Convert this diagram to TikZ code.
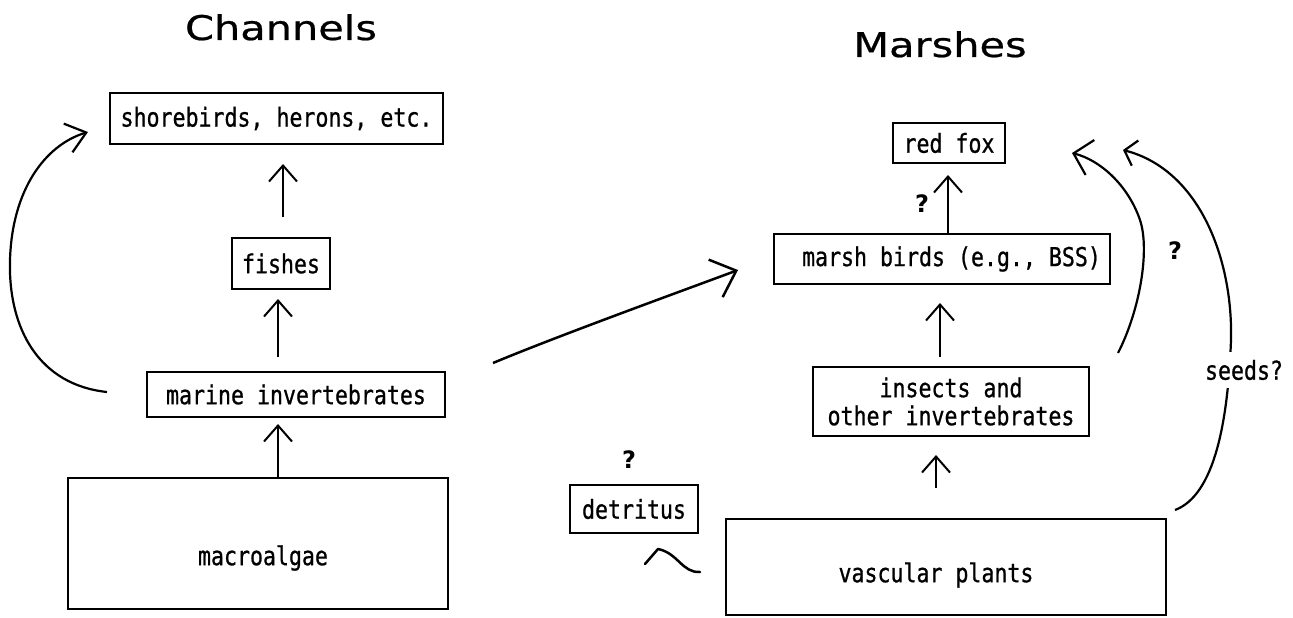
\documentclass[tikz,border=0pt]{standalone}
\usepackage{fontspec}
\usetikzlibrary{arrows.meta}
\newfontfamily\boxfont[FakeStretch=0.83,FakeBold=0.8]{DejaVu Sans Mono}
\newfontfamily\titlefont[FakeStretch=1.22,FakeBold=0.6]{DejaVu Sans}
\newfontfamily\qfont{DejaVu Sans}
\begin{document}
\begin{tikzpicture}[x=1pt,y=-1pt,
  box/.style={draw, line width=2pt, inner sep=0pt, font={\boxfont\fontsize{26}{28}\selectfont}},
  lbl/.style={inner sep=0pt, font={\boxfont\fontsize{26}{28}\selectfont}},
  ttl/.style={inner sep=0pt, anchor=base, font={\titlefont\fontsize{34}{40}\selectfont}},
  qm/.style={inner sep=0pt, font={\qfont\bfseries\fontsize{24}{28}\selectfont}},
  arr/.style={line width=2pt, -{Straight Barb[length=16pt,width=28pt]}},
  bigarr/.style={line width=2.5pt, -{Straight Barb[length=22pt,width=40pt]}},
  lcarr/.style={line width=2.2pt, -{Straight Barb[length=19pt,width=30pt]}},
  rcarrA/.style={line width=2.2pt, -{Straight Barb[length=17pt,width=36pt]}},
  rcarrB/.style={line width=2.2pt, -{Straight Barb[length=11pt,width=26pt]}}]
\useasboundingbox (0,0) rectangle (1293,618);

% titles
\node[ttl] (chan) at (281,40) {Channels};
\node[ttl] (mars) at (940,57) {Marshes};

% channel boxes
\node[box, minimum width=333pt, minimum height=51pt] (shore) at (276.5,118.5) {shorebirds, herons, etc.};
\node[box, minimum width=98pt, minimum height=51pt] (fishes) at (281,263.5) {fishes};
\node[box, minimum width=298pt, minimum height=45pt] (marine) at (296,394.5) {marine invertebrates};
\node[box, minimum width=380pt, minimum height=131pt] (macro) at (258,543.5) {};
\node[lbl] (macrot) at (263,558) {macroalgae};

% marsh boxes
\node[box, minimum width=112pt, minimum height=40pt] (fox) at (949,143) {red fox};
\node[box, minimum width=336pt, minimum height=50pt] (marsh) at (942,259) {\hspace*{19pt}marsh birds (e.g., BSS)};
\node[box, minimum width=276pt, minimum height=69pt, align=center] (insects) at (951,401.5) {insects and\\other invertebrates};
\node[box, minimum width=440pt, minimum height=96pt] (vasc) at (946,567) {};
\node[lbl] (vasct) at (936,575) {vascular plants};
\node[box, minimum width=128pt, minimum height=48pt] (detr) at (634,509) {detritus};

% question marks
\node[qm] (q1) at (922,204) {?};
\node[qm] (q2) at (1175,251) {?};
\node[qm] (q3) at (629,460) {?};

% straight arrows
\draw[arr, shorten <=20pt, shorten >=19pt] ([xshift=2pt]fishes.north) -- ([xshift=2pt]fishes.north |- shore.south);
\draw[arr, shorten <=14pt, shorten >=9pt] ([xshift=-3pt]fishes.south |- marine.north) -- ([xshift=-3pt]fishes.south);
\draw[arr, shorten >=6pt] ([xshift=-18pt]marine.south |- macro.north) -- ([xshift=-18pt]marine.south);
\draw[arr, shorten >=11pt] ([xshift=-1pt]fox.south |- marsh.north) -- ([xshift=-1pt]fox.south);
\draw[arr, shorten <=9pt, shorten >=18pt] ([xshift=-2pt]marsh.south |- insects.north) -- ([xshift=-2pt]marsh.south);
\draw[arr, shorten <=30pt, shorten >=18pt] ([xshift=-15pt]insects.south |- vasc.north) -- ([xshift=-15pt]insects.south);

% big arrow marine -> marsh birds
\coordinate (bigS) at (493,363);
\coordinate (bigE) at (738,270);
\draw[bigarr] (bigS) .. controls (560,335) and (690,288) .. (bigE);

% left loop marine -> shorebirds
\coordinate (lcS) at (107,392);
\coordinate (lcE) at (88,132);
\draw[lcarr] (lcS) .. controls (40,385) and (8,330) .. (10,260) .. controls (12,190) and (45,145) .. (lcE);

% right curves to red fox
\coordinate (c1S) at (1118,353);
\coordinate (c1E) at (1072,153);
\draw[rcarrA] (c1S) .. controls (1140,310) and (1150,250) .. (1140,220) .. controls (1128,185) and (1100,160) .. (c1E);
\coordinate (c2S) at (1175,510);
\coordinate (c2E) at (1123,150);
\draw[rcarrB] (c2S) .. controls (1215,495) and (1228,420) .. (1231,340) .. controls (1233,260) and (1200,170) .. (c2E);
\node[lbl, fill=white, minimum height=36pt, inner xsep=2pt] (seeds) at (1244,370) {seeds?};

% detritus arrow
\coordinate (dS) at (700,572);
\coordinate (dE) at (658,549);
\coordinate (dB) at (645,564);
\draw[line width=2.5pt, line cap=round, line join=round] (dS) .. controls (682,573) and (678,553) .. (dE) -- (dB);
\end{tikzpicture}
\end{document}
